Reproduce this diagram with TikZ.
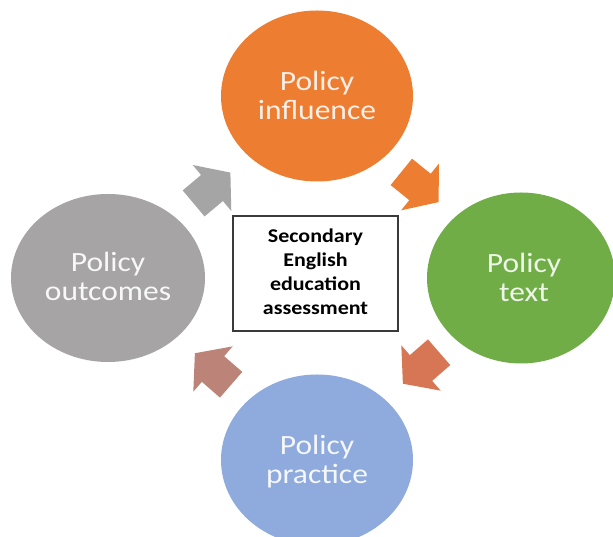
\documentclass[tikz,border=0pt]{standalone}
\usepackage{fontspec}
\usepackage{graphicx}
\setmainfont{Carlito}
\usetikzlibrary{shapes.geometric}
\definecolor{cOrange}{HTML}{ED7D31}
\definecolor{cGreen}{HTML}{70AD47}
\definecolor{cBlue}{HTML}{8FAADC}
\definecolor{cGray}{HTML}{A6A4A4}
\definecolor{aGray}{HTML}{A5A5A5}
\definecolor{aCoral}{HTML}{D67654}
\definecolor{aRose}{HTML}{BC8479}
\definecolor{boxline}{HTML}{3A3A3A}
\newcommand{\squishtext}[1]{\scalebox{1}[0.885]{\begin{tabular}{@{}c@{}}#1\end{tabular}}}
\tikzset{
  bubble/.style={ellipse, inner sep=0pt, minimum width=192pt, minimum height=171pt,
    font=\fontsize{31.5}{33}\selectfont},
  bubbletext/.style={inner sep=0pt, font=\fontsize{31.5}{33}\selectfont},
  corebox/.style={draw=boxline, line width=1.1pt, fill=white, inner sep=0pt,
    minimum width=165pt, minimum height=115pt,
    font=\bfseries\fontsize{22}{27}\selectfont},
  pics/blockarrow/.style={code={
    \fill[pic actions] (-24,-17) -- (0,-17) -- (0,-30) -- (24,0) -- (0,30) -- (0,17) -- (-24,17) -- cycle;}}
}
\begin{document}
\begin{tikzpicture}[x=1pt,y=1pt]
\useasboundingbox (0,0) rectangle (613,537);
\clip (0,0) rectangle (613,537);
\fill[white] (0,0) rectangle (613,537);
% circles
\node[bubble, fill=cOrange] (infl) at (317,441) {};
\node[bubble, fill=cGreen, minimum width=188pt] (text) at (521,259) {};
\node[bubble, fill=cBlue] (prac) at (317,77) {};
\node[bubble, fill=cGray, minimum width=194pt, minimum height=168pt] (outc) at (108,259) {};
\node[bubbletext, text=white!88!cOrange] (inflL) at ([yshift=-3pt]infl.center) {\squishtext{Policy\\influence}};
\node[bubbletext, text=white!88!cGreen] (textL) at ([xshift=3pt,yshift=-3pt]text.center) {\squishtext{Policy\\text}};
\node[bubbletext, text=white!90!cBlue] (pracL) at ([yshift=-3pt]prac.center) {\squishtext{Policy\\practice}};
\node[bubbletext, text=white!92!cGray] (outcL) at ([yshift=-2pt]outc.center) {\squishtext{Policy\\outcomes}};
% arrows
\pic[fill=aGray, rotate=40] (agray) at (212,349) {blockarrow};
\pic[fill=cOrange, rotate=-39] (aorange) at (420,350) {blockarrow};
\pic[fill=aCoral, rotate=-139] (acoral) at (421,169) {blockarrow};
\pic[fill=aRose, rotate=139] (arose) at (213,168) {blockarrow};
% centre box
\node[corebox] (core) at (315.5,263.5) {\squishtext{Secondary\\English\\education\\assessment}};
\end{tikzpicture}
\end{document}
